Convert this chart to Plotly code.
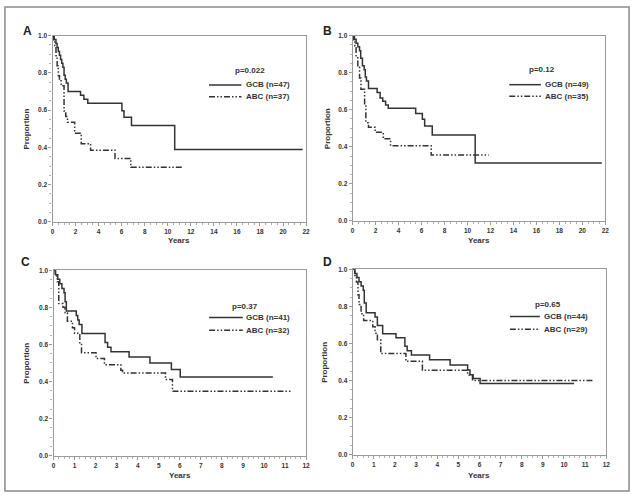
import plotly.graph_objects as go

# ---------------- data ----------------
panels = ["A", "B", "C", "D"]
p_values = ["p=0.022", "p=0.12", "p=0.37", "p=0.65"]
gcb_labels = ["GCB (n=47)", "GCB (n=49)", "GCB (n=41)", "GCB (n=44)"]
abc_labels = ["ABC (n=37)", "ABC (n=35)", "ABC (n=32)", "ABC (n=29)"]

a_gcb_t = [0, 0.15, 0.3, 0.4, 0.5, 0.6, 0.7, 0.8, 0.9, 1.0, 1.1, 1.2, 1.35, 2.43, 2.72, 3.06, 6.02, 6.2, 6.85, 10.6, 21.7]
a_gcb_s = [1.0, 0.979, 0.957, 0.936, 0.915, 0.894, 0.872, 0.851, 0.83, 0.787, 0.766, 0.745, 0.70, 0.679, 0.658, 0.637, 0.597, 0.562, 0.517, 0.388, 0.388]
a_abc_t = [0, 0.1, 0.2, 0.3, 0.4, 0.5, 0.6, 0.75, 1.0, 1.15, 1.3, 1.92, 2.49, 3.3, 5.42, 6.79, 11.37]
a_abc_s = [1.0, 0.973, 0.946, 0.892, 0.838, 0.784, 0.757, 0.73, 0.595, 0.565, 0.535, 0.476, 0.42, 0.385, 0.34, 0.293, 0.293]

b_gcb_t = [0, 0.15, 0.3, 0.45, 0.6, 0.7, 0.85, 1.0, 1.1, 1.2, 1.38, 2.13, 2.39, 2.62, 2.87, 3.1, 5.49, 6.07, 6.27, 6.93, 10.67, 21.7]
b_gcb_s = [1.0, 0.98, 0.959, 0.939, 0.918, 0.878, 0.837, 0.816, 0.776, 0.755, 0.714, 0.693, 0.663, 0.645, 0.625, 0.608, 0.58, 0.549, 0.512, 0.464, 0.312, 0.312]
b_abc_t = [0, 0.1, 0.2, 0.3, 0.45, 0.6, 0.72, 1.04, 1.15, 1.38, 1.96, 2.67, 3.3, 6.84, 11.85]
b_abc_s = [1.0, 0.971, 0.943, 0.886, 0.829, 0.771, 0.71, 0.62, 0.53, 0.505, 0.478, 0.443, 0.406, 0.355, 0.355]

c_gcb_t = [0, 0.1, 0.2, 0.3, 0.4, 0.5, 0.55, 0.61, 1.08, 1.15, 1.22, 1.35, 2.45, 2.57, 2.73, 3.59, 4.58, 5.6, 6.02, 10.42]
c_gcb_s = [1.0, 0.976, 0.951, 0.927, 0.902, 0.878, 0.83, 0.78, 0.756, 0.732, 0.707, 0.659, 0.61, 0.585, 0.56, 0.532, 0.499, 0.464, 0.424, 0.424]
c_abc_t = [0, 0.08, 0.18, 0.25, 0.45, 0.55, 0.66, 0.9, 1.0, 1.25, 1.33, 2.02, 2.42, 3.2, 3.28, 5.32, 5.65, 11.3]
c_abc_s = [1.0, 0.969, 0.938, 0.82, 0.80, 0.77, 0.725, 0.69, 0.66, 0.60, 0.555, 0.524, 0.49, 0.46, 0.445, 0.41, 0.347, 0.347]

d_gcb_t = [0, 0.1, 0.2, 0.3, 0.4, 0.5, 0.55, 0.64, 1.06, 1.17, 1.42, 2.05, 2.47, 2.58, 2.78, 3.64, 4.61, 5.44, 5.55, 5.7, 6.03, 10.48]
d_gcb_s = [1.0, 0.977, 0.955, 0.932, 0.909, 0.886, 0.818, 0.765, 0.742, 0.697, 0.652, 0.63, 0.585, 0.56, 0.538, 0.512, 0.484, 0.457, 0.431, 0.41, 0.383, 0.383]
d_abc_t = [0, 0.1, 0.18, 0.25, 0.3, 0.4, 0.52, 0.95, 1.06, 1.17, 1.33, 2.52, 3.3, 5.44, 5.67, 11.35]
d_abc_s = [1.0, 0.966, 0.931, 0.862, 0.81, 0.76, 0.724, 0.69, 0.655, 0.62, 0.545, 0.503, 0.455, 0.43, 0.40, 0.40]

x_max = [22, 22, 12, 12]
x_ticks = [list(range(0, 23, 2)), list(range(0, 23, 2)), list(range(0, 13)), list(range(0, 13))]
y_ticks = [0.0, 0.2, 0.4, 0.6, 0.8, 1.0]

gcb = [(a_gcb_t, a_gcb_s), (b_gcb_t, b_gcb_s), (c_gcb_t, c_gcb_s), (d_gcb_t, d_gcb_s)]
abc = [(a_abc_t, a_abc_s), (b_abc_t, b_abc_s), (c_abc_t, c_abc_s), (d_abc_t, d_abc_s)]

# ---------------- layout geometry (pixels) ----------------
W, H = 637, 501
# (left, right, top, bottom) of each plot area
boxes = [(51, 307, 32, 221), (354, 609, 32, 220), (52, 307, 270, 458), (354, 610, 269, 457)]
letter_pos = [(26, 27), (329, 27), (24, 262), (329, 262)]
ytitle_x = [25, 328, 25, 326]
xtitle_y = [240, 240, 478, 478]
# legend geometry in axis-domain fractions
leg_line = [(0.617, 0.745), (0.62, 0.745), (0.616, 0.749), (0.62, 0.738)]
leg_text_x = [0.755, 0.753, 0.753, 0.746]
leg_y = [(0.815, 0.735, 0.672), (0.815, 0.735, 0.672), (0.803, 0.745, 0.676), (0.81, 0.745, 0.676)]
p_x = [0.777, 0.75, 0.757, 0.77]

LINE = "#333333"
AXIS = "#9a9a9a"
FONT = "Liberation Sans, Arial, sans-serif"
ABC_DASH = "6px,2px,1.5px,2px,1.5px,2px"

fig = go.Figure()
layout = dict(
    width=W, height=H, margin=dict(l=0, r=0, t=0, b=0),
    paper_bgcolor="white", plot_bgcolor="white", showlegend=False,
    font=dict(family=FONT, color="#333333"),
)
annotations = []
shapes = []

for i in range(4):
    sfx = "" if i == 0 else str(i + 1)
    xa, ya = "x" + sfx, "y" + sfx
    l, r, t, b = boxes[i]
    layout["xaxis" + sfx] = dict(
        domain=[l / W, r / W], anchor=ya, range=[0, x_max[i]],
        tickvals=x_ticks[i], ticktext=[str(v) for v in x_ticks[i]],
        showline=True, linecolor=AXIS, linewidth=1.2, mirror=True,
        ticks="outside", ticklen=3, tickcolor=AXIS, tickwidth=1,
        minor=dict(ticks="outside", ticklen=2, dtick=(0.5 if x_max[i] == 22 else 0.25), tickcolor="#b0b0b0"),
        showgrid=False, zeroline=False,
        tickfont=dict(family=FONT, size=6.5, weight="bold", color="#333333"),
    )
    layout["yaxis" + sfx] = dict(
        domain=[1 - b / H, 1 - t / H], anchor=xa, range=[0, 1],
        tickvals=y_ticks, ticktext=["%.1f" % v for v in y_ticks],
        showline=True, linecolor=AXIS, linewidth=1.2, mirror=True,
        ticks="outside", ticklen=3, tickcolor=AXIS, tickwidth=1,
        minor=dict(ticks="outside", ticklen=2, dtick=0.05, tickcolor="#b0b0b0"),
        showgrid=False, zeroline=False,
        tickfont=dict(family=FONT, size=6.5, weight="bold", color="#333333"),
    )
    gt, gs = gcb[i]
    at, as_ = abc[i]
    fig.add_trace(go.Scatter(x=gt, y=gs, mode="lines", line=dict(shape="hv", color=LINE, width=1.5),
                             xaxis=xa, yaxis=ya, cliponaxis=False, name=gcb_labels[i]))
    fig.add_trace(go.Scatter(x=at, y=as_, mode="lines", line=dict(shape="hv", color=LINE, width=1.5, dash=ABC_DASH),
                             xaxis=xa, yaxis=ya, cliponaxis=False, name=abc_labels[i]))

    # panel letter
    lx, ly = letter_pos[i]
    annotations.append(dict(text=panels[i], x=lx / W, y=1 - ly / H, xref="paper", yref="paper",
                            showarrow=False, xanchor="center", yanchor="middle",
                            font=dict(family=FONT, size=12, weight="bold", color="#222222")))
    # axis titles
    annotations.append(dict(text="Proportion", x=ytitle_x[i] / W, y=1 - (t + b) / 2 / H, xref="paper", yref="paper",
                            showarrow=False, textangle=-90, xanchor="center", yanchor="middle",
                            font=dict(family=FONT, size=8, weight="bold", color="#333333")))
    annotations.append(dict(text="Years", x=(l + r) / 2 / W, y=1 - xtitle_y[i] / H, xref="paper", yref="paper",
                            showarrow=False, xanchor="center", yanchor="middle",
                            font=dict(family=FONT, size=8, weight="bold", color="#333333")))
    # legend
    py, gy, ay = leg_y[i]
    annotations.append(dict(text=p_values[i], x=p_x[i], y=py, xref=xa + " domain", yref=ya + " domain",
                            showarrow=False, xanchor="center", yanchor="middle",
                            font=dict(family=FONT, size=8, weight="bold", color="#333333")))
    annotations.append(dict(text=gcb_labels[i], x=leg_text_x[i], y=gy, xref=xa + " domain", yref=ya + " domain",
                            showarrow=False, xanchor="left", yanchor="middle",
                            font=dict(family=FONT, size=8, weight="bold", color="#333333")))
    annotations.append(dict(text=abc_labels[i], x=leg_text_x[i], y=ay, xref=xa + " domain", yref=ya + " domain",
                            showarrow=False, xanchor="left", yanchor="middle",
                            font=dict(family=FONT, size=8, weight="bold", color="#333333")))
    x0, x1 = leg_line[i]
    shapes.append(dict(type="line", xref=xa + " domain", yref=ya + " domain", x0=x0, x1=x1, y0=gy, y1=gy,
                       line=dict(color=LINE, width=1.5)))
    shapes.append(dict(type="line", xref=xa + " domain", yref=ya + " domain", x0=x0, x1=x1, y0=ay, y1=ay,
                       line=dict(color=LINE, width=1.5, dash=ABC_DASH)))

# outer frame
shapes.append(dict(type="rect", xref="paper", yref="paper", x0=3 / W, x1=633 / W, y0=1 - 494 / H, y1=1 - 3 / H,
                   line=dict(color="#8a8a8a", width=1.5)))

layout["annotations"] = annotations
layout["shapes"] = shapes
fig.update_layout(**layout)
fig.write_html("out.html", config={"displayModeBar": False},
               post_script="document.body.style.margin='0';document.body.style.padding='0';"
                           "document.body.style.overflow='hidden';")
